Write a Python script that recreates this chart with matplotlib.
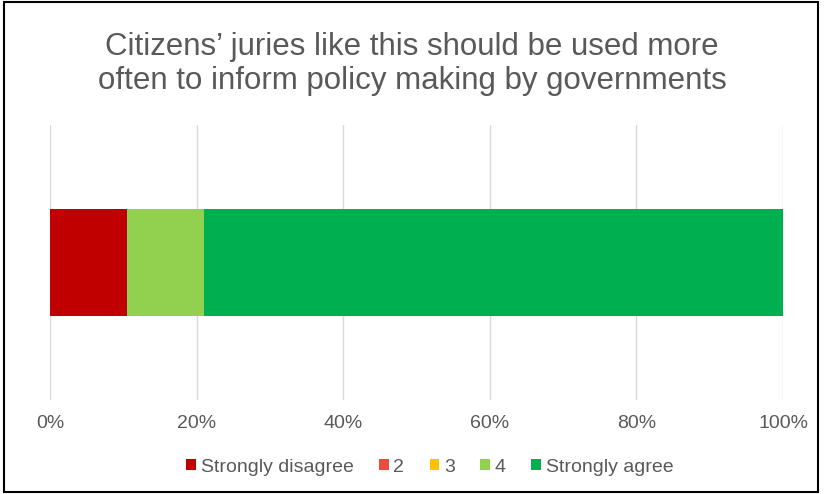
import matplotlib.pyplot as plt
from matplotlib.patches import Rectangle

plt.rcParams['font.family'] = ['Liberation Sans', 'DejaVu Sans']

# Responses (share of jurors)
categories = ['Strongly disagree', '2', '3', '4', 'Strongly agree']
shares = [2 / 19, 0, 0, 2 / 19, 15 / 19]
colors = ['#C00000', '#EE4B3A', '#FFC000', '#92D050', '#00B050']
ticks = [0, 0.2, 0.4, 0.6, 0.8, 1.0]
tick_labels = ['0%', '20%', '40%', '60%', '80%', '100%']
title = "Citizens\u2019 juries like this should be used more\noften to inform policy making by governments"

fig = plt.figure(figsize=(8.24, 4.94), dpi=100)
ax = fig.add_axes([50 / 824, 1 - 400 / 494, 733 / 824, 275 / 494])

left = 0
for cat, val, col in zip(categories, shares, colors):
    ax.barh(0, val, left=left, height=0.785, color=col, label=cat)
    left += val

ax.set_xlim(0, 1)
ax.set_ylim(-1, 1)
ax.set_xticks(ticks)
ax.set_xticklabels(tick_labels, color='#595959', fontsize=14)
ax.set_yticks([])
ax.grid(axis='x', color='#D9D9D9', linewidth=1)
ax.set_axisbelow(True)
ax.tick_params(axis='x', length=0, pad=11)
for s in ax.spines.values():
    s.set_visible(False)

fig.text(0.5, 1 - 64 / 494, title, ha='center', va='center', fontsize=22.5,
         color='#595959', linespacing=1.15)

ax.legend(loc='center', bbox_to_anchor=(0.518, (400 - 467) / 275), ncol=5,
          frameon=False, fontsize=14, handlelength=0.5, handleheight=0.5,
          handletextpad=0.25, columnspacing=1.3, labelcolor='#595959')

fig.patches.append(Rectangle((4 / 824, 2 / 494), 814 / 824, 490 / 494,
                             transform=fig.transFigure, fill=False,
                             edgecolor='black', linewidth=1.5))

fig.savefig('out.png', dpi=100)
